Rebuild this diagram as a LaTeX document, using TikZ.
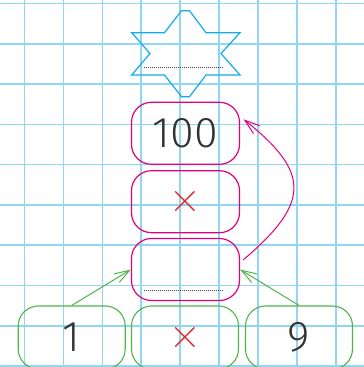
\documentclass[tikz,border=0pt]{standalone}
\usepackage{fontspec}
\newfontfamily\digitfont{Fira Sans Light}
\usetikzlibrary{arrows.meta}
\definecolor{gridblue}{RGB}{145,215,242}
\definecolor{starblue}{RGB}{20,170,230}
\definecolor{boxpink}{RGB}{228,0,125}
\definecolor{boxgreen}{RGB}{80,180,75}
\definecolor{crossred}{RGB}{220,40,45}

\begin{document}
\begin{tikzpicture}[x=1pt,y=-1pt,
	pinkbox/.style={draw=boxpink,line width=1.2pt,rounded corners=20pt,minimum width=108pt,minimum height=62pt,inner sep=0pt},
	greenbox/.style={draw=boxgreen,line width=1.1pt,rounded corners=20pt,minimum width=107pt,minimum height=63pt,inner sep=0pt},
	digit/.style={font=\digitfont\fontsize{43}{43}\selectfont,text=black!80},
	cross/.style={font=\rmfamily\fontsize{44}{44}\selectfont,text=crossred},
	dotline/.style={black!70,line width=0.8pt,dash pattern=on 0.8pt off 1.2pt},
	barb/.style={line width=1pt,-{Straight Barb[length=15pt,width=10pt]}}]
	\useasboundingbox (0,0) rectangle (364,367);
	\clip (0,0) rectangle (364,367);

	% squared paper
	\foreach \k in {0,...,8}
		\draw[gridblue,line width=1.6pt] ({24.5+38.9*\k},0) -- ({24.5+38.9*\k},367);
	\foreach \k in {0,...,9}
		\draw[gridblue,line width=1.6pt] (0,{3.5+40.28*\k}) -- (364,{3.5+40.28*\k});

	% star with answer line
	\draw[starblue,line width=1.2pt] (181.5,10.7) -- (189.5,10.7) -- (206,32.7) -- (240,32.7) -- (221,53.5) -- (240,75) -- (206,75) -- (189.5,96.7) -- (181.5,96.7) -- (164.5,75) -- (131.7,75) -- (150,53.5) -- (131.7,32.7) -- (164.5,32.7) -- cycle;
	\draw[dotline] (144.3,67.7) -- (223.3,67.7);

	% column of pink boxes
	\node[pinkbox,digit] (hundred) at (185.5,133.3) {100};
	\node[pinkbox,cross] (times) at (185.5,201.7) {×};
	\node[pinkbox] (blank) at (185.5,269.5) {};
	\draw[dotline] (144,290.7) -- (223,290.7);

	% row of green boxes
	\node[greenbox,digit] (one) at (71.7,337.5) {1};
	\node[greenbox,cross] (gtimes) at (185,337.5) {×};
	\node[greenbox,digit] (nine) at (299,337.5) {9};

	\draw[boxgreen,barb] (one.north) -- (blank.west);
	\draw[boxgreen,barb] (nine.north) -- (blank.east);

	\coordinate (arcstart) at ([shift={(3,-9.5)}]blank.east);
	\coordinate (arcend) at ([shift={(3.5,-14)}]hundred.east);
	\draw[boxpink,barb] (arcstart) .. controls (310,203) and (311,173) .. (arcend);
\end{tikzpicture}
\end{document}
